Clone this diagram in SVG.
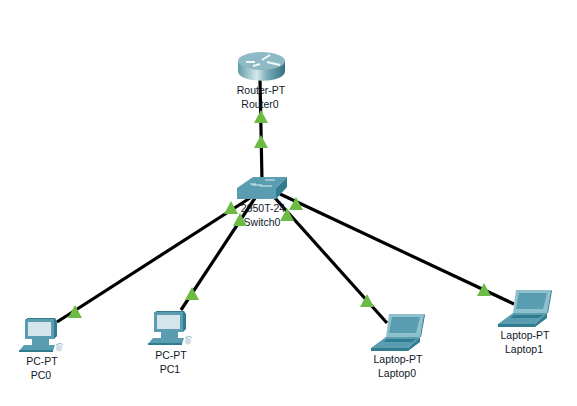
<svg xmlns="http://www.w3.org/2000/svg" width="577" height="406" viewBox="0 0 577 406">
<style>
text{font-family:"Liberation Sans",Arial,sans-serif;font-size:10.5px;fill:#101828;text-anchor:middle}
.w{stroke:#000;stroke-width:3.2;fill:none}
.t{fill:#6cbb45}
.dk{fill:#2f7d8f}.md{fill:#5b9db0}.lt{fill:#8fc0cd}.sc{fill:#d5e5ec}
.sp{stroke:#f2f7f8;stroke-width:2;fill:none}
</style>
<defs>
<linearGradient id="rg" x1="0" x2="1" y1="0" y2="0"><stop offset="0" stop-color="#5f9aa8"/><stop offset=".4" stop-color="#d6e8ec"/><stop offset=".6" stop-color="#80b0bc"/><stop offset="1" stop-color="#33707f"/></linearGradient>
<polygon id="tri" points="0,-7 7,6 -7,6" class="t"/>
<g id="pc">
<path class="dk" d="M2,0 L30,0 L32,3 L32,18 L29,21 L2,21Z"/>
<rect class="md" x="0" y="1" width="29" height="20"/>
<rect class="sc" x="3" y="4" width="23" height="14"/>
<rect class="md" x="7" y="21" width="17" height="6"/>
<path class="md" d="M-6,33 L-1,27 L30,27 L28,33Z"/><rect class="dk" x="-6" y="32" width="34" height="2"/>
<path d="M31,27 q5,-3 7,0" stroke="#8fb6c2" fill="none"/><ellipse cx="34" cy="30" rx="3" ry="3.500" fill="#cfdfe5"/>
</g>
<g id="lap">
<path class="lt" d="M3,0 L38,0 L34,23 L0,23Z"/>
<path class="md" d="M6,3 L34,3 L30,19 L3,19Z"/>
<path class="dk" d="M38,0 L39,1 L35,23 L34,23Z"/>
<path class="md" d="M0,23 L34,23 L22,34 L-15,34Z"/>
<path class="dk" d="M1,25 L30,25 L26,28 L-3,28Z"/>
<path d="M-15,34 L22,34 L34,23 L34,28 L22,37 L-15,37Z" class="dk"/>
</g>
</defs>
<g id="connectors">
<line class="w" x1="260" y1="80" x2="262" y2="180"/>
<line class="w" x1="250" y1="198" x2="57" y2="322"/>
<line class="w" x1="255" y1="198" x2="181" y2="310"/>
<line class="w" x1="275" y1="198" x2="387" y2="323"/>
<line class="w" x1="280" y1="194" x2="514" y2="304"/>
</g>
<g id="Router0">
<path d="M238,61 V71 C238,84 285,84 285,71 V61Z" fill="url(#rg)"/>
<ellipse cx="261.500" cy="61" rx="23.500" ry="9" fill="#8ebac6"/>
<path class="sp" d="M246,62 L255,62 M262,60 L270,55 M253,66 L260,64 M267,62 L280,65"/>
<text x="261" y="94">Router-PT</text><text x="260" y="108">Router0</text>
</g>
<g id="Switch0">
<path d="M237,188 L253,177 L287,177 L276,188Z" class="md"/>
<path d="M276,188 L287,177 L287,187 L276,199Z" class="dk"/>
<rect x="237" y="188" width="39" height="11" fill="#5a9cb1"/>
<path d="M252,185 h10 M265,180 h10 M250,184 h6 M260,186 h12" stroke="#e0eef2" stroke-width="1"/>
<text x="263" y="212">2950T-24</text><text x="262" y="226">Switch0</text>
</g>
<g id="PC0"><use href="#pc" x="25" y="318"/><text x="42" y="365">PC-PT</text><text x="41" y="379">PC0</text></g>
<g id="PC1"><use href="#pc" x="154" y="311"/><text x="171" y="359">PC-PT</text><text x="170" y="373">PC1</text></g>
<g id="Laptop0"><use href="#lap" x="386" y="314"/><text x="398" y="363">Laptop-PT</text><text x="397" y="377">Laptop0</text></g>
<g id="Laptop1"><use href="#lap" x="513" y="290"/><text x="525" y="339">Laptop-PT</text><text x="524" y="353">Laptop1</text></g>
<g id="links">
<use href="#tri" x="261" y="117"/><use href="#tri" x="261" y="142"/>
<use href="#tri" x="231" y="208"/><use href="#tri" x="75" y="312"/>
<use href="#tri" x="240" y="220"/><use href="#tri" x="192" y="294"/>
<use href="#tri" x="287" y="215"/><use href="#tri" x="367" y="301"/>
<use href="#tri" x="296" y="204"/><use href="#tri" x="484" y="290"/>
</g>
</svg>
